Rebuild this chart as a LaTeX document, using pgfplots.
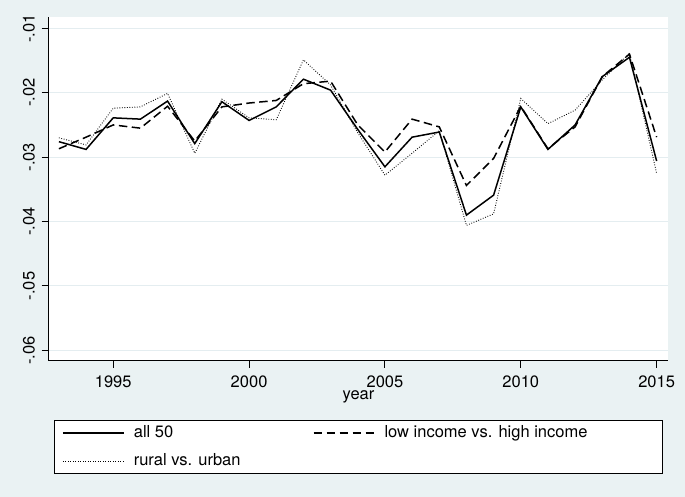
\documentclass[border=0pt]{standalone}
\usepackage{pgfplots}
\pgfplotsset{compat=1.18}
\usepackage{pgfplotstable}
\usepackage{fontspec}
\setmainfont{TeX Gyre Heros}
\definecolor{bgcol}{RGB}{234,242,243}
\definecolor{gridcol}{RGB}{228,237,240}
\pgfplotstableread{
year all income rural
1993 -0.0276 -0.0287 -0.0270
1994 -0.0288 -0.0269 -0.0281
1995 -0.0239 -0.0250 -0.0224
1996 -0.0241 -0.0255 -0.0222
1997 -0.0213 -0.0221 -0.0201
1998 -0.0279 -0.0275 -0.0294
1999 -0.0214 -0.0222 -0.0210
2000 -0.0243 -0.0216 -0.0239
2001 -0.0222 -0.0212 -0.0242
2002 -0.0179 -0.0186 -0.0149
2003 -0.0196 -0.0182 -0.0188
2004 -0.0257 -0.0250 -0.0262
2005 -0.0315 -0.0292 -0.0328
2006 -0.0269 -0.0241 -0.0294
2007 -0.0261 -0.0253 -0.0259
2008 -0.0390 -0.0344 -0.0406
2009 -0.0359 -0.0302 -0.0388
2010 -0.0222 -0.0221 -0.0209
2011 -0.0288 -0.0287 -0.0248
2012 -0.0250 -0.0253 -0.0227
2013 -0.0175 -0.0175 -0.0180
2014 -0.0145 -0.0140 -0.0139
2015 -0.0306 -0.0269 -0.0325
}\datatable
\begin{document}
\begin{tikzpicture}
\fill[bgcol] (0,0) rectangle (685bp,497bp);
\begin{axis}[
  at={(48.7bp,136.3bp)}, anchor=south west,
  scale only axis, width=619.6bp, height=343.4bp,
  xmin=1992.625, xmax=2015.43,
  ymin=-0.0616, ymax=-0.00829,
  axis background/.style={fill=white},
  axis x line*=bottom, axis y line*=left,
  axis line style={-, line width=1bp, black},
  xtick={1995,2000,2005,2010,2015},
  xticklabels={1995,2000,2005,2010,2015},
  ytick={-0.06,-0.05,-0.04,-0.03,-0.02,-0.01},
  yticklabels={-.06,-.05,-.04,-.03,-.02,-.01},
  scaled y ticks=false, scaled x ticks=false,
  tick align=outside,
  major tick length=7bp,
  tick style={line width=1bp, black},
  ymajorgrids, grid style={gridcol, line width=1bp},
  font=\fontsize{16.5bp}{19bp}\selectfont,
  tick label style={font=\fontsize{16.5bp}{19bp}\selectfont},
  /pgf/number format/assume math mode=true,
  yticklabel style={xshift=-6.7bp, rotate=90, anchor=south, inner sep=0pt},
  xticklabel style={anchor=north, inner sep=0pt, yshift=-8.3bp},
  xlabel={year},
  xlabel style={at={(axis description cs:0.5,-0.1144)}, anchor=base, inner sep=0pt},
  legend columns=2,
  legend cell align=left,
  legend style={at={(0.009,-0.1735)}, anchor=north west, draw=black, line width=0.8bp, fill=white,
    inner xsep=7.4bp, inner ysep=4.5bp, row sep=12.7bp, column sep=0pt,
    nodes={inner sep=0pt, text height=12bp, text depth=3.5bp, font=\fontsize{16.5bp}{19bp}\selectfont}},
  legend image code/.code={\path[draw=none,fill=none] (0bp,-4bp) rectangle (71bp,4bp); \draw[#1] (0bp,0bp) -- (61bp,0bp);},
]
\addplot[black, line width=1.5bp] table[x=year, y=all] {\datatable};
\addlegendentry{\makebox[179bp][l]{all 50}}
\addplot[black, line width=1.5bp, dash pattern=on 8.5bp off 4.5bp] table[x=year, y=income] {\datatable};
\addlegendentry{\makebox[270.9bp][l]{low income vs. high income}}
\addplot[black, line width=0.9bp, dash pattern=on 0.8bp off 1.7bp] table[x=year, y=rural] {\datatable};
\addlegendentry{rural vs. urban}
\end{axis}
\end{tikzpicture}
\end{document}
